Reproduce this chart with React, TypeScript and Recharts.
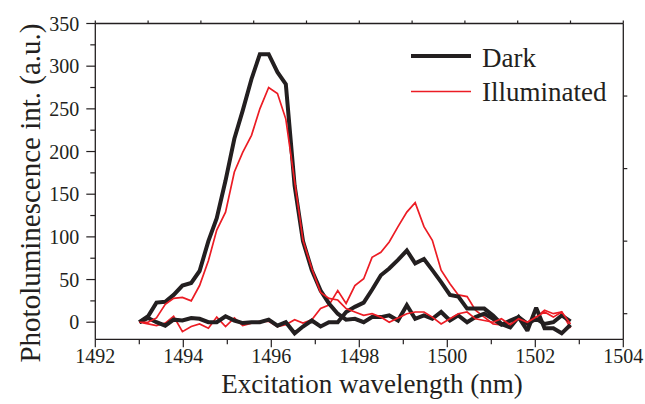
import React from "react";
import { LineChart, Line, XAxis, YAxis, Label } from "recharts";

// Excitation wavelength grid (nm)
const wavelength = [
  1493.0, 1493.2, 1493.39, 1493.59, 1493.78, 1493.98, 1494.18, 1494.37, 1494.57, 1494.76,
  1494.96, 1495.16, 1495.35, 1495.55, 1495.74, 1495.94, 1496.14, 1496.33, 1496.53, 1496.72,
  1496.92, 1497.12, 1497.31, 1497.51, 1497.7, 1497.9, 1498.1, 1498.29, 1498.49, 1498.68,
  1498.88, 1499.08, 1499.27, 1499.47, 1499.66, 1499.86, 1500.06, 1500.25, 1500.45, 1500.64,
  1500.84, 1501.04, 1501.23, 1501.43, 1501.62, 1501.82, 1502.02, 1502.21, 1502.41, 1502.6,
  1502.8,
];

// Dark, scan with the 1495.9 nm line
const darkScanA = [
  0, 7, 23, 24, 32, 43, 46, 60, 95, 122,
  166, 215, 248, 285, 314, 314, 293, 279, 160, 95,
  61, 37, 22, 10, 3, 4, 0, 6, 6, 8,
  2, 20, 4, 8, 4, 12, 2, 8, 0, 6,
  10, 4, -3, 2, 6, -2, 4, -2, 0, 8,
  1,
];

// Dark, scan with the 1499.1 nm line
const darkScanB = [
  0, 5, 0, -4, 3, 2, 5, 4, 0, 0,
  7, 2, -1, 0, 0, 3, -4, 0, -13, -5,
  2, -5, 0, 0, 12, 18, 23, 38, 55, 63,
  73, 84, 69, 74, 61, 47, 32, 30, 16, 16,
  16, 8, -2, -6, 6, -10, 17, -7, -7, -13,
  -3,
];

// Illuminated, scan with the 1495.9 nm line
const illumScanA = [
  0, 0, 5, 21, 28, 29, 25, 43, 72, 108,
  129, 176, 199, 219, 250, 275, 268, 238, 165, 96,
  63, 35, 28, 26, 16, 12, 8, 10, 6, 0,
  5, 10, 12, 12, 6, -2, 4, 10, 12, 4,
  2, 0, 4, -3, 4, 0, 6, 12, 6, 12,
  -2,
];

// Illuminated, scan with the 1499.3 nm line
const illumScanB = [
  0, -2, -4, -1, 7, -11, -5, -2, -7, 6,
  -5, 5, -4, -1, 1, 1, -5, -3, 3, -1,
  3, 16, 20, 37, 22, 43, 51, 76, 82, 94,
  112, 129, 140, 112, 96, 61, 45, 32, 30, 14,
  6, -2, -3, 0, 6, 0, 6, 14, 10, 12,
  -7,
];

const xTicks = [1492, 1493, 1494, 1495, 1496, 1497, 1498, 1499, 1500, 1501, 1502, 1503, 1504];
const yTicks = [0, 25, 50, 75, 100, 125, 150, 175, 200, 225, 250, 275, 300, 325, 350];
const topTicks = [1492, 1493.2, 1494.4, 1495.6, 1496.8, 1498, 1499.2, 1500.4, 1501.6, 1502.8, 1504];
const rightTicks = [265, 180, 95, 10];

const seriesNames = ["Dark", "Illuminated"];
const xTitle = "Excitation wavelength (nm)";
const yTitle = "Photoluminescence int. (a.u.)";

const data = wavelength.map((wl, i) => ({
  wl,
  darkA: darkScanA[i],
  darkB: darkScanB[i],
  illumA: illumScanA[i],
  illumB: illumScanB[i],
}));

const FONT = '"Liberation Serif", "Times New Roman", Times, serif';
const INK = "#231f20";
const RED = "#ec1c24";

function BottomTick(props: any) {
  const { x, y, payload } = props;
  const v = Number(payload.value);
  const major = Math.abs(v % 2) < 1e-6;
  return (
    <g>
      <line x1={x} x2={x} y1={y} y2={y + (major ? 8 : 5)} stroke={INK} strokeWidth={1.2} />
      {major && (
        <text x={x} y={y + 24} textAnchor="middle" fontFamily={FONT} fontSize={20} fill={INK}>
          {v}
        </text>
      )}
    </g>
  );
}

function LeftTick(props: any) {
  const { x, y, payload } = props;
  const v = Number(payload.value);
  const major = v % 50 === 0;
  return (
    <g>
      <line x1={x} x2={x - (major ? 9 : 5)} y1={y} y2={y} stroke={INK} strokeWidth={1.2} />
      {major && (
        <text x={x - 16} y={y} dy="0.35em" textAnchor="end" fontFamily={FONT} fontSize={20} fill={INK}>
          {v}
        </text>
      )}
    </g>
  );
}

function TopTick(props: any) {
  const { x, y } = props;
  return <line x1={x} x2={x} y1={y} y2={y - 3} stroke={INK} strokeWidth={1.2} />;
}

function RightTick(props: any) {
  const { x, y } = props;
  return <line x1={x} x2={x + 4} y1={y} y2={y} stroke={INK} strokeWidth={1.2} />;
}

function XTitle() {
  return (
    <text x={372} y={393} textAnchor="middle" fontFamily={FONT} fontSize={27} fill={INK}>
      {xTitle}
    </text>
  );
}

function YTitle() {
  return (
    <text
      x={40}
      y={193}
      transform="rotate(-90, 40, 193)"
      textAnchor="middle"
      fontFamily={FONT}
      fontSize={29}
      fill={INK}
    >
      {yTitle}
    </text>
  );
}

function LegendBox() {
  return (
    <svg width={225} height={80} style={{ position: "absolute", left: 405, top: 36, overflow: "visible" }}>
      <line x1={6} x2={66} y1={20} y2={20} stroke={INK} strokeWidth={4} />
      <text x={77} y={30.5} fontFamily={FONT} fontSize={27} fill={INK}>
        {seriesNames[0]}
      </text>
      <line x1={6} x2={66} y1={55.5} y2={55.5} stroke={RED} strokeWidth={1.7} />
      <text x={77} y={64.5} fontFamily={FONT} fontSize={27} fill={INK}>
        {seriesNames[1]}
      </text>
    </svg>
  );
}

export default function App() {
  return (
    <div style={{ position: "absolute", left: 0, top: 0, width: 645, height: 404, background: "#fff" }}>
      <LineChart
        width={645}
        height={404}
        data={data}
        margin={{ top: 18.5, right: 16.7, bottom: 9.7, left: 10.3 }}
      >
        <XAxis
          dataKey="wl"
          type="number"
          domain={[1492, 1504]}
          ticks={xTicks}
          allowDataOverflow
          interval={0}
          height={55}
          tickSize={0}
          tickMargin={0}
          tickLine={false}
          tick={<BottomTick />}
          axisLine={{ stroke: INK, strokeWidth: 1.3 }}
        >
          <Label content={<XTitle />} />
        </XAxis>
        <XAxis
          xAxisId="top"
          orientation="top"
          dataKey="wl"
          type="number"
          domain={[1492, 1504]}
          ticks={topTicks}
          allowDataOverflow
          interval={0}
          height={5}
          tickSize={0}
          tickMargin={0}
          tickLine={false}
          tick={<TopTick />}
          axisLine={{ stroke: INK, strokeWidth: 1.3 }}
        />
        <YAxis
          type="number"
          domain={[-20, 350]}
          ticks={yTicks}
          allowDataOverflow
          interval={0}
          width={85}
          tickSize={0}
          tickMargin={0}
          tickLine={false}
          tick={<LeftTick />}
          axisLine={{ stroke: INK, strokeWidth: 1.3 }}
        >
          <Label content={<YTitle />} />
        </YAxis>
        <YAxis
          yAxisId="right"
          orientation="right"
          type="number"
          domain={[-20, 350]}
          ticks={rightTicks}
          allowDataOverflow
          interval={0}
          width={5}
          tickSize={0}
          tickMargin={0}
          tickLine={false}
          tick={<RightTick />}
          axisLine={{ stroke: INK, strokeWidth: 1.3 }}
        />
        <Line
          dataKey="illumB"
          name={seriesNames[1]}
          stroke={RED}
          strokeWidth={1.7}
          dot={false}
          isAnimationActive={false}
          strokeLinejoin="miter"
        />
        <Line
          dataKey="darkB"
          name={seriesNames[0]}
          stroke={INK}
          strokeWidth={4}
          dot={false}
          isAnimationActive={false}
          strokeLinejoin="miter"
          strokeMiterlimit={2}
        />
        <Line
          dataKey="darkA"
          name={seriesNames[0]}
          stroke={INK}
          strokeWidth={4}
          dot={false}
          isAnimationActive={false}
          strokeLinejoin="miter"
          strokeMiterlimit={2}
        />
        <Line
          dataKey="illumA"
          name={seriesNames[1]}
          stroke={RED}
          strokeWidth={1.7}
          dot={false}
          isAnimationActive={false}
          strokeLinejoin="miter"
        />
      </LineChart>
      <LegendBox />
    </div>
  );
}
